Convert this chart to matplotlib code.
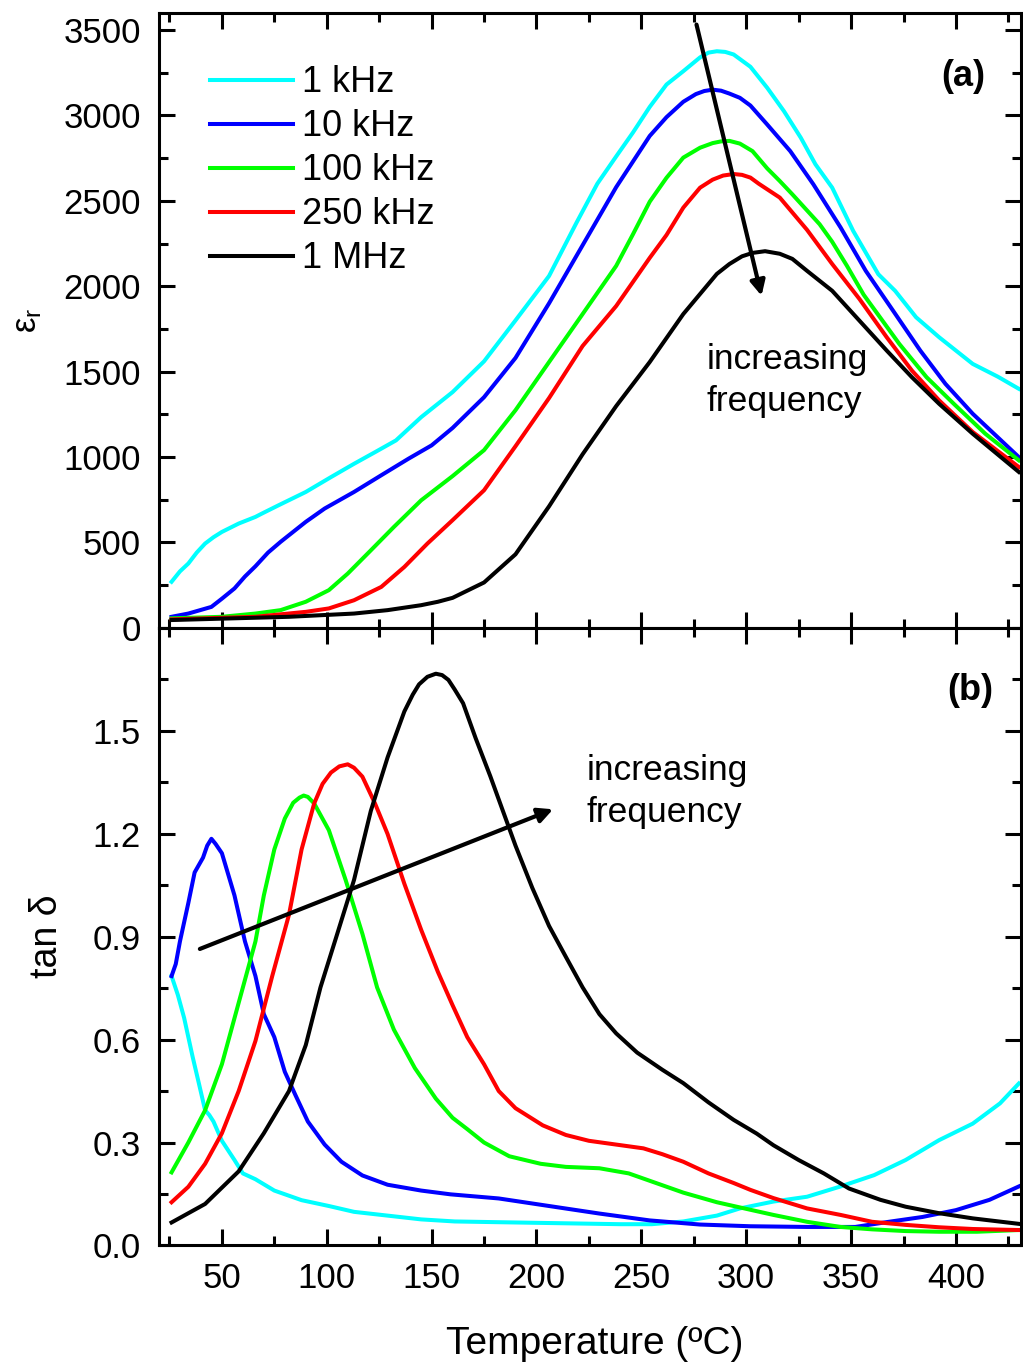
import matplotlib
matplotlib.use("Agg")
import matplotlib.pyplot as plt
from matplotlib.ticker import MultipleLocator, FormatStrFormatter

plt.rcParams['font.family'] = ['Liberation Sans', 'DejaVu Sans']
plt.rcParams['mathtext.fontset'] = 'custom'
plt.rcParams['mathtext.rm'] = 'Liberation Sans'
plt.rcParams['mathtext.it'] = 'Liberation Sans:italic'

labels = ['1 kHz', '10 kHz', '100 kHz', '250 kHz', '1 MHz']
colors = ['#00ffff', '#0000ff', '#00ff00', '#ff0000', '#000000']

# (a) permittivity vs temperature
eps_1k_T = [26, 30, 34, 38, 42, 46, 50, 58, 66, 69, 77, 90, 102, 113, 123, 133, 145, 160, 175, 190,
            206, 219, 229, 238, 246, 254, 262, 270, 278, 282, 286, 290, 294, 302, 310, 318, 326, 333, 341,
            351, 363, 371, 381, 392, 408, 420, 430]
eps_1k = [269, 330, 376, 440, 493, 530, 561, 610, 649, 668, 717, 795, 882, 960, 1028, 1097, 1233, 1380,
          1560, 1800, 2060, 2370, 2600, 2760, 2900, 3050, 3181, 3259, 3340, 3368, 3376, 3372, 3357, 3285,
          3162, 3025, 2870, 2714, 2577, 2324, 2070, 1973, 1818, 1701, 1545, 1470, 1399]

eps_10k_T = [26, 34, 45, 50, 56, 61, 66, 72, 78, 90, 99, 113, 126, 139, 150, 160, 175, 190, 206, 222,
             238, 254, 262, 270, 276, 280, 284, 288, 292, 297, 302, 310, 321, 332, 345, 357, 370, 383, 395,
             408, 430]
eps_10k = [64, 83, 122, 170, 230, 300, 360, 440, 503, 620, 698, 795, 893, 990, 1068, 1170, 1350, 1580,
           1900, 2240, 2580, 2880, 2990, 3080, 3125, 3143, 3151, 3145, 3128, 3103, 3058, 2947, 2791, 2597,
           2344, 2090, 1857, 1623, 1428, 1253, 999]

eps_100k_T = [26, 50, 66, 78, 90, 101, 110, 121, 132, 145, 160, 175, 190, 206, 222, 238, 246, 254, 262,
              270, 278, 284, 288, 292, 297, 303, 310, 316, 322, 335, 341, 348, 356, 373, 386, 399, 414, 430]
eps_100k = [55, 64, 83, 103, 152, 220, 317, 453, 590, 746, 888, 1040, 1274, 1556, 1837, 2119, 2304, 2495,
            2635, 2753, 2811, 2838, 2848, 2851, 2835, 2791, 2690, 2616, 2538, 2363, 2260, 2120, 1950, 1662,
            1467, 1311, 1136, 980]

eps_250k_T = [26, 66, 90, 101, 113, 126, 137, 148, 160, 175, 190, 206, 222, 238, 254, 262, 270, 278, 284,
              289, 294, 298, 302, 306, 316, 329, 341, 354, 367, 379, 392, 408, 430]
eps_250k = [49, 64, 93, 113, 161, 239, 356, 493, 630, 805, 1063, 1345, 1650, 1884, 2166, 2300, 2460, 2577,
            2624, 2648, 2657, 2652, 2636, 2600, 2519, 2330, 2130, 1925, 1701, 1506, 1331, 1146, 941]

eps_1M_T = [26, 82, 113, 129, 145, 153, 160, 175, 190, 206, 222, 238, 254, 270, 286, 292, 298, 303, 309,
            316, 322, 329, 341, 354, 367, 379, 392, 408, 430]
eps_1M = [45, 64, 83, 103, 132, 152, 175, 265, 430, 711, 1016, 1298, 1556, 1837, 2072, 2130, 2175, 2195,
          2205, 2190, 2160, 2090, 1973, 1798, 1623, 1467, 1311, 1136, 912]

# (b) loss tangent vs temperature
tan_1k_T = [26, 29, 32, 36, 39, 42, 44, 46, 50, 56, 60, 66, 75, 88, 101, 113, 129, 145, 161, 180, 200,
            220, 240, 255, 270, 286, 297, 313, 329, 345, 361, 376, 392, 408, 421, 430]
tan_1k = [0.785, 0.73, 0.663, 0.551, 0.473, 0.394, 0.38, 0.361, 0.305, 0.249, 0.21, 0.193, 0.16, 0.132,
          0.115, 0.098, 0.087, 0.076, 0.07, 0.068, 0.066, 0.064, 0.062, 0.062, 0.07, 0.087, 0.108, 0.128,
          0.142, 0.172, 0.205, 0.249, 0.307, 0.355, 0.414, 0.472]

tan_10k_T = [26, 28, 30, 34, 37, 41, 43, 45, 47, 50, 56, 61, 66, 70, 75, 80, 85, 91, 99, 107, 117, 129,
             145, 159, 182, 206, 230, 254, 278, 302, 329, 352, 368, 384, 400, 416, 430]
tan_10k = [0.785, 0.82, 0.886, 0.998, 1.087, 1.13, 1.165, 1.185, 1.17, 1.143, 1.02, 0.886, 0.785, 0.674,
           0.607, 0.506, 0.439, 0.361, 0.294, 0.244, 0.204, 0.177, 0.16, 0.149, 0.137, 0.115, 0.093, 0.073,
           0.061, 0.056, 0.054, 0.054, 0.069, 0.083, 0.103, 0.133, 0.172]

tan_100k_T = [26, 34, 42, 50, 58, 66, 70, 75, 80, 84, 87, 89, 91, 94, 101, 109, 117, 124, 132, 142, 152,
              160, 167, 175, 187, 202, 214, 230, 244, 257, 270, 286, 302, 313, 329, 345, 360, 376, 392, 410,
              430]
tan_100k = [0.213, 0.30, 0.394, 0.528, 0.707, 0.886, 1.02, 1.154, 1.244, 1.29, 1.305, 1.311, 1.307, 1.288,
            1.21, 1.065, 0.908, 0.752, 0.629, 0.517, 0.428, 0.372, 0.339, 0.30, 0.26, 0.238, 0.229, 0.225,
            0.21, 0.182, 0.154, 0.126, 0.104, 0.089, 0.069, 0.054, 0.047, 0.042, 0.040, 0.040, 0.045]

tan_250k_T = [26, 34, 42, 50, 58, 66, 74, 82, 88, 94, 98, 102, 106, 110, 113, 117, 123, 129, 137, 145,
              153, 160, 167, 175, 182, 190, 203, 214, 225, 238, 251, 260, 270, 282, 294, 302, 313, 329, 345,
              360, 376, 392, 408, 430]
tan_250k = [0.126, 0.171, 0.238, 0.327, 0.45, 0.596, 0.785, 0.964, 1.154, 1.288, 1.345, 1.378, 1.396,
            1.402, 1.392, 1.366, 1.288, 1.199, 1.054, 0.92, 0.797, 0.7, 0.607, 0.528, 0.45, 0.4, 0.35,
            0.322, 0.305, 0.294, 0.283, 0.266, 0.244, 0.21, 0.182, 0.162, 0.138, 0.108, 0.089, 0.069, 0.060,
            0.053, 0.048, 0.045]

tan_1M_T = [26, 42, 58, 70, 82, 90, 97, 105, 113, 121, 129, 137, 141, 144, 148, 152, 155, 158, 161, 165,
            171, 178, 184, 190, 198, 206, 214, 222, 230, 238, 248, 260, 270, 282, 294, 305, 313, 325, 337,
            349, 364, 376, 392, 408, 430]
tan_1M = [0.067, 0.121, 0.216, 0.327, 0.45, 0.584, 0.752, 0.908, 1.065, 1.266, 1.422, 1.556, 1.605, 1.635,
          1.657, 1.666, 1.662, 1.648, 1.62, 1.58, 1.478, 1.367, 1.266, 1.165, 1.042, 0.931, 0.841, 0.752,
          0.674, 0.618, 0.562, 0.512, 0.473, 0.417, 0.366, 0.326, 0.292, 0.249, 0.21, 0.166, 0.133, 0.113,
          0.094, 0.079, 0.063]

eps_series = [(eps_1k_T, eps_1k), (eps_10k_T, eps_10k), (eps_100k_T, eps_100k),
              (eps_250k_T, eps_250k), (eps_1M_T, eps_1M)]
tan_series = [(tan_1k_T, tan_1k), (tan_10k_T, tan_10k), (tan_100k_T, tan_100k),
              (tan_250k_T, tan_250k), (tan_1M_T, tan_1M)]

fig = plt.figure(figsize=(10.23, 13.67), dpi=100)
ax1 = fig.add_axes([0.1554, 0.5408, 0.8426, 0.4497])
ax2 = fig.add_axes([0.1554, 0.0889, 0.8426, 0.4519])

for (t, v), c, lab in zip(eps_series, colors, labels):
    ax1.plot(t, v, color=c, lw=2.9, label=lab)
for (t, v), c in zip(tan_series, colors):
    ax2.plot(t, v, color=c, lw=2.9)

for ax in (ax1, ax2):
    ax.set_xlim(20, 431)
    ax.xaxis.set_major_locator(MultipleLocator(50))
    ax.xaxis.set_minor_locator(MultipleLocator(25))
    ax.tick_params(which='both', direction='in', top=True, right=True, width=2.2, labelsize=25)
    ax.tick_params(which='major', length=11.5)
    ax.tick_params(which='minor', length=6.5)
    ax.tick_params(axis='y', pad=13)
    ax.tick_params(axis='x', pad=12)
    for s in ax.spines.values():
        s.set_linewidth(2.2)

ax1.set_ylim(0, 3600)
ax1.yaxis.set_major_locator(MultipleLocator(500))
ax1.yaxis.set_minor_locator(MultipleLocator(250))
ax1.tick_params(axis='x', labelbottom=False)
ax1.set_ylabel('ε$_\\mathregular{r}$', fontsize=25)
ax1.yaxis.set_label_coords(-0.133, 0.5)

ax2.set_ylim(0, 1.8)
ax2.set_yticks([0, 0.3, 0.6, 0.9, 1.2, 1.5])
ax2.yaxis.set_minor_locator(MultipleLocator(0.15))
ax2.yaxis.set_major_formatter(FormatStrFormatter('%.1f'))
ax2.set_ylabel('tan δ', fontsize=27)
ax2.yaxis.set_label_coords(-0.109, 0.5)
ax2.set_xlabel('Temperature (ºC)', fontsize=28)
ax2.xaxis.set_label_coords(0.506, -0.16)
ax2.xaxis.label.set_va('center')

ax1.legend(loc='upper left', bbox_to_anchor=(0.059, 0.915), frameon=False, fontsize=26,
           handlelength=2.3, handletextpad=0.25, labelspacing=0.25, borderpad=0, borderaxespad=0)

arrow = dict(arrowstyle='-|>', color='k', lw=3, mutation_scale=22, shrinkA=0, shrinkB=0)
ax1.annotate('', xy=(307.3, 1944), xytext=(276.3, 3532), arrowprops=arrow)
ax2.annotate('', xy=(207.9, 1.271), xytext=(39.5, 0.864), arrowprops=arrow)

ax1.text(281.2, 1447, 'increasing\nfrequency', fontsize=25.5, va='center', ha='left', linespacing=1.35)
ax2.text(224, 1.322, 'increasing\nfrequency', fontsize=25.5, va='center', ha='left', linespacing=1.35)

ax1.text(0.933, 0.896, '(a)', transform=ax1.transAxes, fontsize=26, fontweight='bold',
         ha='center', va='center')
ax2.text(0.941, 0.899, '(b)', transform=ax2.transAxes, fontsize=26, fontweight='bold',
         ha='center', va='center')

fig.savefig('out.png', dpi=100)
